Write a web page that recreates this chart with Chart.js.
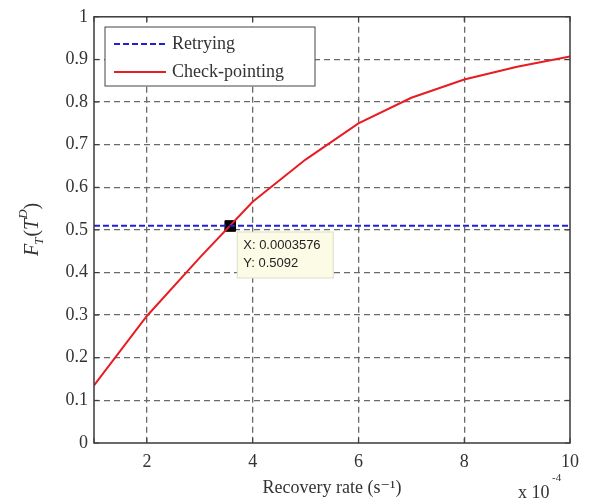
<!DOCTYPE html>
<html>
<head>
<meta charset="utf-8">
<script src="https://cdn.jsdelivr.net/npm/chart.js@4"></script>
<style>
  html, body { margin: 0; padding: 0; background: #fff; }
  #wrap { width: 594px; height: 504px; }
</style>
</head>
<body>
<div id="wrap"><canvas id="RecoveryChart" width="594" height="504"></canvas></div>
<script>
// recovery rate in units of 1e-4 s^-1
var recoveryRate = [1, 2, 3, 4, 5, 6, 7, 8, 9, 10];
var checkPointing = [0.135, 0.298, 0.435, 0.566, 0.665, 0.75, 0.81, 0.853, 0.883, 0.907];
var retrying = [0.51, 0.51];
var retryingX = [1, 10];
var tipX = 3.576;
var tipY = 0.5092;
var xTicks = [1, 2, 4, 6, 8, 10];
var yTicks = [0, 0.1, 0.2, 0.3, 0.4, 0.5, 0.6, 0.7, 0.8, 0.9, 1];

var serif = "'Liberation Serif', 'DejaVu Serif', serif";

var framePlugin = {
    id: "frame",
    afterDatasetsDraw: function (chart) {
        var ctx = chart.ctx;
        var a = chart.chartArea;
        var xs = chart.scales.x, ys = chart.scales.y;
        ctx.save();
        // box
        ctx.strokeStyle = "#3a3a3a";
        ctx.lineWidth = 1.5;
        ctx.strokeRect(a.left, a.top, a.right - a.left, a.bottom - a.top);
        // inward ticks
        ctx.lineWidth = 1;
        xTicks.forEach(function (v) {
            var px = xs.getPixelForValue(v);
            ctx.beginPath();
            ctx.moveTo(px, a.bottom); ctx.lineTo(px, a.bottom - 5);
            ctx.moveTo(px, a.top); ctx.lineTo(px, a.top + 5);
            ctx.stroke();
        });
        yTicks.forEach(function (v) {
            var py = ys.getPixelForValue(v);
            ctx.beginPath();
            ctx.moveTo(a.left, py); ctx.lineTo(a.left + 5, py);
            ctx.moveTo(a.right, py); ctx.lineTo(a.right - 5, py);
            ctx.stroke();
        });

        // legend
        var lx = 105, ly = 27, lw = 210, lh = 59;
        ctx.fillStyle = "#fff";
        ctx.fillRect(lx, ly, lw, lh);
        ctx.strokeStyle = "#444";
        ctx.strokeRect(lx, ly, lw, lh);
        ctx.lineWidth = 2;
        ctx.strokeStyle = "#2020d8";
        ctx.setLineDash([6, 3]);
        ctx.beginPath(); ctx.moveTo(114, 44); ctx.lineTo(166, 44); ctx.stroke();
        ctx.setLineDash([]);
        ctx.strokeStyle = "#e81c22";
        ctx.beginPath(); ctx.moveTo(114, 72); ctx.lineTo(166, 72); ctx.stroke();
        ctx.fillStyle = "#333";
        ctx.font = "18px " + serif;
        ctx.textBaseline = "middle";
        ctx.textAlign = "left";
        ctx.fillText("Retrying", 172, 44);
        ctx.fillText("Check-pointing", 172, 72);

        // data tip
        var px = xs.getPixelForValue(tipX), py = ys.getPixelForValue(tipY);
        var bx = px + 7, by = py + 6;
        ctx.fillStyle = "#fbfbe6";
        ctx.fillRect(bx, by, 96, 46);
        ctx.strokeStyle = "#ddddc8";
        ctx.lineWidth = 1;
        ctx.strokeRect(bx, by, 96, 46);
        ctx.fillStyle = "#222";
        ctx.font = "13px 'Liberation Sans', Arial, sans-serif";
        ctx.fillText("X: 0.0003576", bx + 6, by + 13);
        ctx.fillText("Y: 0.5092", bx + 6, by + 31);

        // axis labels
        ctx.fillStyle = "#333";
        ctx.font = "18px " + serif;
        ctx.textAlign = "center";
        ctx.fillText("Recovery rate (s\u207B\u00B9)", 332, 488);
        ctx.textAlign = "left";
        ctx.font = "18px " + serif;
        ctx.fillText("x 10", 518, 493);
        ctx.font = "11px " + serif;
        ctx.fillText("-4", 552, 478);

        // y label F_T(T^D)
        ctx.save();
        ctx.translate(33, 222);
        ctx.rotate(-Math.PI / 2);
        ctx.textAlign = "left";
        var x0 = -34;
        ctx.font = "italic 20px " + serif;
        ctx.fillText("F", x0, 0); x0 += ctx.measureText("F").width;
        ctx.font = "italic 13px " + serif;
        ctx.fillText("T", x0 - 1, 7); x0 += ctx.measureText("T").width;
        ctx.font = "20px " + serif;
        ctx.fillText("(", x0, 0); x0 += ctx.measureText("(").width;
        ctx.font = "italic 20px " + serif;
        ctx.fillText("T", x0, 0); x0 += ctx.measureText("T").width;
        ctx.font = "italic 13px " + serif;
        ctx.fillText("D", x0, -9); x0 += ctx.measureText("D").width;
        ctx.font = "20px " + serif;
        ctx.fillText(")", x0, 0);
        ctx.restore();

        ctx.restore();
    }
};

new Chart("RecoveryChart", {
    type: "scatter",
    data: {
        datasets: [
            {
                label: "Retrying",
                data: retryingX.map(function (x, i) { return { x: x, y: retrying[i] }; }),
                showLine: true,
                borderColor: "#2020d8",
                borderWidth: 2,
                borderDash: [6, 3],
                pointRadius: 0
            },
            {
                label: "Check-pointing",
                data: recoveryRate.map(function (x, i) { return { x: x, y: checkPointing[i] }; }),
                showLine: true,
                borderColor: "#e81c22",
                borderWidth: 2,
                tension: 0,
                pointRadius: 0
            },
            {
                label: "tip",
                data: [{ x: tipX, y: tipY }],
                pointStyle: "rect",
                pointRadius: 7.5,
                backgroundColor: "#000",
                borderColor: "#000"
            }
        ]
    },
    options: {
        responsive: false,
        animation: false,
        events: [],
        layout: { padding: { left: 0, right: 24, top: 14, bottom: 0 } },
        plugins: {
            legend: { display: false },
            tooltip: { enabled: false }
        },
        scales: {
            x: {
                type: "linear",
                min: 1,
                max: 10,
                afterBuildTicks: function (scale) {
                    scale.ticks = xTicks.map(function (v) { return { value: v }; });
                },
                afterFit: function (scale) { scale.height = 61; },
                grid: {
                    color: function (c) { return (c.tick.value === 1 || c.tick.value === 10) ? "rgba(0,0,0,0)" : "#6a6a6a"; },
                    lineWidth: 1.3,
                    drawTicks: false
                },
                border: { display: false, dash: [6, 4] },
                ticks: {
                    padding: 8,
                    color: "#333",
                    font: { family: serif, size: 18 },
                    callback: function (v) { return v === 1 ? "" : v; }
                }
            },
            y: {
                min: 0,
                max: 1,
                afterBuildTicks: function (scale) {
                    scale.ticks = yTicks.map(function (v) { return { value: v }; });
                },
                afterFit: function (scale) { scale.width = 94; },
                grid: {
                    color: function (c) { return (c.tick.value === 0 || c.tick.value === 1) ? "rgba(0,0,0,0)" : "#6a6a6a"; },
                    lineWidth: 1.3,
                    drawTicks: false
                },
                border: { display: false, dash: [6, 4] },
                ticks: {
                    padding: 6,
                    color: "#333",
                    font: { family: serif, size: 18 },
                    callback: function (v) { return v; }
                }
            }
        }
    },
    plugins: [framePlugin]
});
</script>
</body>
</html>
